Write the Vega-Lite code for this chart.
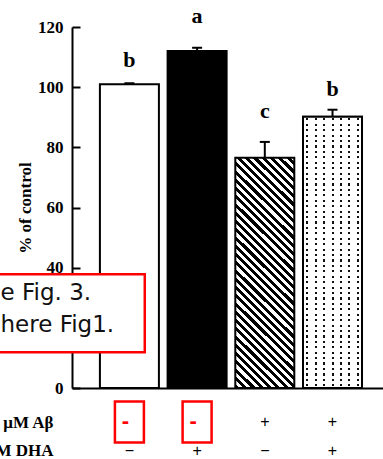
{
  "$schema": "https://vega.github.io/schema/vega-lite/v6.json",
  "width": 311,
  "height": 361,
  "autosize": {"type": "none"},
  "padding": {"left": 72, "right": 0, "top": 27, "bottom": 71},
  "background": "white",
  "config": {"view": {"stroke": null}, "axis": {"grid": false}},
  "datasets": {
    "bars": [
      {"group": "Control", "pos": 1, "value": 101, "upper": 101.3, "letter": "b", "letter_y": 106.7},
      {"group": "DHA", "pos": 2, "value": 112, "upper": 113.1, "letter": "a", "letter_y": 121.2},
      {"group": "Aβ", "pos": 3, "value": 76.5, "upper": 81.8, "letter": "c", "letter_y": 89.8},
      {"group": "Aβ + DHA", "pos": 4, "value": 90.2, "upper": 92.5, "letter": "b", "letter_y": 97.1}
    ],
    "table": [
      {"pos": 1, "row": "μM Aβ", "sign": "-", "hl": true},
      {"pos": 2, "row": "μM Aβ", "sign": "-", "hl": true},
      {"pos": 3, "row": "μM Aβ", "sign": "+", "hl": false},
      {"pos": 4, "row": "μM Aβ", "sign": "+", "hl": false},
      {"pos": 1, "row": "μM DHA", "sign": "−", "hl": false},
      {"pos": 2, "row": "μM DHA", "sign": "+", "hl": false},
      {"pos": 3, "row": "μM DHA", "sign": "−", "hl": false},
      {"pos": 4, "row": "μM DHA", "sign": "+", "hl": false}
    ],
    "note": [
      {"x0": -1.2, "x1": 1.227, "y0": 11.9, "y1": 37.8, "tx": -0.904, "ty": 29.25, "text": ["e Fig. 3.", "here Fig1."]}
    ]
  },
  "resolve": {"scale": {"y": "independent"}, "axis": {"y": "independent"}},
  "layer": [
    {
      "layer": [
        {
          "data": {"name": "bars"},
          "mark": {"type": "bar", "orient": "vertical", "width": 59, "stroke": "black", "strokeWidth": 2},
          "encoding": {
            "x": {"field": "pos", "type": "quantitative", "scale": {"domain": [0.2259, 4.672], "nice": false, "zero": false},
                  "axis": {"title": null, "labels": false, "ticks": false, "domain": true, "domainColor": "black", "domainWidth": 2, "grid": false}},
            "y": {"field": "value", "type": "quantitative", "stack": null, "scale": {"domain": [0, 120], "nice": false},
                  "axis": {"title": "% of control", "values": [0, 40, 60, 80, 100, 120], "domainColor": "black", "domainWidth": 2,
                           "tickColor": "black", "tickWidth": 2, "tickSize": -8, "labelPadding": 17,
                           "labelFont": "Liberation Serif", "labelFontWeight": "bold", "labelFontSize": 17, "labelColor": "black",
                           "titleFont": "Liberation Serif", "titleFontWeight": "bold", "titleFontSize": 17, "titleColor": "black", "titlePadding": 3}},
            "fill": {
              "condition": [
                {"test": "datum.pos === 2", "value": "black"},
                {"test": "datum.pos === 3", "value": {"gradient": "linear", "x1": 0, "y1": 1, "x2": 0.3002, "y2": -0.1783, "stops": [
                  {"offset": 0, "color": "#000"}, {"offset": 0.0143, "color": "#000"}, {"offset": 0.0143, "color": "#fff"}, {"offset": 0.0286, "color": "#fff"},
                  {"offset": 0.0286, "color": "#000"}, {"offset": 0.0429, "color": "#000"}, {"offset": 0.0429, "color": "#fff"}, {"offset": 0.0571, "color": "#fff"},
                  {"offset": 0.0571, "color": "#000"}, {"offset": 0.0714, "color": "#000"}, {"offset": 0.0714, "color": "#fff"}, {"offset": 0.0857, "color": "#fff"},
                  {"offset": 0.0857, "color": "#000"}, {"offset": 0.1, "color": "#000"}, {"offset": 0.1, "color": "#fff"}, {"offset": 0.1143, "color": "#fff"},
                  {"offset": 0.1143, "color": "#000"}, {"offset": 0.1286, "color": "#000"}, {"offset": 0.1286, "color": "#fff"}, {"offset": 0.1429, "color": "#fff"},
                  {"offset": 0.1429, "color": "#000"}, {"offset": 0.1571, "color": "#000"}, {"offset": 0.1571, "color": "#fff"}, {"offset": 0.1714, "color": "#fff"},
                  {"offset": 0.1714, "color": "#000"}, {"offset": 0.1857, "color": "#000"}, {"offset": 0.1857, "color": "#fff"}, {"offset": 0.2, "color": "#fff"},
                  {"offset": 0.2, "color": "#000"}, {"offset": 0.2143, "color": "#000"}, {"offset": 0.2143, "color": "#fff"}, {"offset": 0.2286, "color": "#fff"},
                  {"offset": 0.2286, "color": "#000"}, {"offset": 0.2429, "color": "#000"}, {"offset": 0.2429, "color": "#fff"}, {"offset": 0.2571, "color": "#fff"},
                  {"offset": 0.2571, "color": "#000"}, {"offset": 0.2714, "color": "#000"}, {"offset": 0.2714, "color": "#fff"}, {"offset": 0.2857, "color": "#fff"},
                  {"offset": 0.2857, "color": "#000"}, {"offset": 0.3, "color": "#000"}, {"offset": 0.3, "color": "#fff"}, {"offset": 0.3143, "color": "#fff"},
                  {"offset": 0.3143, "color": "#000"}, {"offset": 0.3286, "color": "#000"}, {"offset": 0.3286, "color": "#fff"}, {"offset": 0.3429, "color": "#fff"},
                  {"offset": 0.3429, "color": "#000"}, {"offset": 0.3571, "color": "#000"}, {"offset": 0.3571, "color": "#fff"}, {"offset": 0.3714, "color": "#fff"},
                  {"offset": 0.3714, "color": "#000"}, {"offset": 0.3857, "color": "#000"}, {"offset": 0.3857, "color": "#fff"}, {"offset": 0.4, "color": "#fff"},
                  {"offset": 0.4, "color": "#000"}, {"offset": 0.4143, "color": "#000"}, {"offset": 0.4143, "color": "#fff"}, {"offset": 0.4286, "color": "#fff"},
                  {"offset": 0.4286, "color": "#000"}, {"offset": 0.4429, "color": "#000"}, {"offset": 0.4429, "color": "#fff"}, {"offset": 0.4571, "color": "#fff"},
                  {"offset": 0.4571, "color": "#000"}, {"offset": 0.4714, "color": "#000"}, {"offset": 0.4714, "color": "#fff"}, {"offset": 0.4857, "color": "#fff"},
                  {"offset": 0.4857, "color": "#000"}, {"offset": 0.5, "color": "#000"}, {"offset": 0.5, "color": "#fff"}, {"offset": 0.5143, "color": "#fff"},
                  {"offset": 0.5143, "color": "#000"}, {"offset": 0.5286, "color": "#000"}, {"offset": 0.5286, "color": "#fff"}, {"offset": 0.5429, "color": "#fff"},
                  {"offset": 0.5429, "color": "#000"}, {"offset": 0.5571, "color": "#000"}, {"offset": 0.5571, "color": "#fff"}, {"offset": 0.5714, "color": "#fff"},
                  {"offset": 0.5714, "color": "#000"}, {"offset": 0.5857, "color": "#000"}, {"offset": 0.5857, "color": "#fff"}, {"offset": 0.6, "color": "#fff"},
                  {"offset": 0.6, "color": "#000"}, {"offset": 0.6143, "color": "#000"}, {"offset": 0.6143, "color": "#fff"}, {"offset": 0.6286, "color": "#fff"},
                  {"offset": 0.6286, "color": "#000"}, {"offset": 0.6429, "color": "#000"}, {"offset": 0.6429, "color": "#fff"}, {"offset": 0.6571, "color": "#fff"},
                  {"offset": 0.6571, "color": "#000"}, {"offset": 0.6714, "color": "#000"}, {"offset": 0.6714, "color": "#fff"}, {"offset": 0.6857, "color": "#fff"},
                  {"offset": 0.6857, "color": "#000"}, {"offset": 0.7, "color": "#000"}, {"offset": 0.7, "color": "#fff"}, {"offset": 0.7143, "color": "#fff"},
                  {"offset": 0.7143, "color": "#000"}, {"offset": 0.7286, "color": "#000"}, {"offset": 0.7286, "color": "#fff"}, {"offset": 0.7429, "color": "#fff"},
                  {"offset": 0.7429, "color": "#000"}, {"offset": 0.7571, "color": "#000"}, {"offset": 0.7571, "color": "#fff"}, {"offset": 0.7714, "color": "#fff"},
                  {"offset": 0.7714, "color": "#000"}, {"offset": 0.7857, "color": "#000"}, {"offset": 0.7857, "color": "#fff"}, {"offset": 0.8, "color": "#fff"},
                  {"offset": 0.8, "color": "#000"}, {"offset": 0.8143, "color": "#000"}, {"offset": 0.8143, "color": "#fff"}, {"offset": 0.8286, "color": "#fff"},
                  {"offset": 0.8286, "color": "#000"}, {"offset": 0.8429, "color": "#000"}, {"offset": 0.8429, "color": "#fff"}, {"offset": 0.8571, "color": "#fff"},
                  {"offset": 0.8571, "color": "#000"}, {"offset": 0.8714, "color": "#000"}, {"offset": 0.8714, "color": "#fff"}, {"offset": 0.8857, "color": "#fff"},
                  {"offset": 0.8857, "color": "#000"}, {"offset": 0.9, "color": "#000"}, {"offset": 0.9, "color": "#fff"}, {"offset": 0.9143, "color": "#fff"},
                  {"offset": 0.9143, "color": "#000"}, {"offset": 0.9286, "color": "#000"}, {"offset": 0.9286, "color": "#fff"}, {"offset": 0.9429, "color": "#fff"},
                  {"offset": 0.9429, "color": "#000"}, {"offset": 0.9571, "color": "#000"}, {"offset": 0.9571, "color": "#fff"}, {"offset": 0.9714, "color": "#fff"},
                  {"offset": 0.9714, "color": "#000"}, {"offset": 0.9857, "color": "#000"}, {"offset": 0.9857, "color": "#fff"}, {"offset": 1, "color": "#fff"}
                ]}},
                {"test": "datum.pos === 4", "value": {"gradient": "linear", "x1": 0, "y1": 0, "x2": 1, "y2": 0, "stops": [
                  {"offset": 0, "color": "#fff"}, {"offset": 0.0544, "color": "#fff"}, {"offset": 0.0544, "color": "#111"}, {"offset": 0.0884, "color": "#111"},
                  {"offset": 0.0884, "color": "#fff"}, {"offset": 0.1973, "color": "#fff"}, {"offset": 0.1973, "color": "#111"}, {"offset": 0.2313, "color": "#111"},
                  {"offset": 0.2313, "color": "#fff"}, {"offset": 0.3401, "color": "#fff"}, {"offset": 0.3401, "color": "#111"}, {"offset": 0.3741, "color": "#111"},
                  {"offset": 0.3741, "color": "#fff"}, {"offset": 0.483, "color": "#fff"}, {"offset": 0.483, "color": "#111"}, {"offset": 0.517, "color": "#111"},
                  {"offset": 0.517, "color": "#fff"}, {"offset": 0.6259, "color": "#fff"}, {"offset": 0.6259, "color": "#111"}, {"offset": 0.6599, "color": "#111"},
                  {"offset": 0.6599, "color": "#fff"}, {"offset": 0.7687, "color": "#fff"}, {"offset": 0.7687, "color": "#111"}, {"offset": 0.8027, "color": "#111"},
                  {"offset": 0.8027, "color": "#fff"}, {"offset": 0.9116, "color": "#fff"}, {"offset": 0.9116, "color": "#111"}, {"offset": 0.9456, "color": "#111"},
                  {"offset": 0.9456, "color": "#fff"}, {"offset": 1, "color": "#fff"}
                ]}}
              ],
              "value": "white"
            }
          }
        },
        {
          "data": {"name": "bars"},
          "transform": [{"filter": "datum.pos === 4"}],
          "mark": {"type": "bar", "orient": "vertical", "width": 59, "stroke": "black", "strokeWidth": 2,
            "fill": {"gradient": "linear", "x1": 0, "y1": 0, "x2": 0, "y2": 1, "stops": [
              {"offset": 0, "color": "rgba(255,255,255,1)"},
              {"offset": 0.006, "color": "rgba(255,255,255,1)"}, {"offset": 0.006, "color": "rgba(255,255,255,0)"}, {"offset": 0.014, "color": "rgba(255,255,255,0)"}, {"offset": 0.014, "color": "rgba(255,255,255,1)"},
              {"offset": 0.026, "color": "rgba(255,255,255,1)"}, {"offset": 0.026, "color": "rgba(255,255,255,0)"}, {"offset": 0.034, "color": "rgba(255,255,255,0)"}, {"offset": 0.034, "color": "rgba(255,255,255,1)"},
              {"offset": 0.046, "color": "rgba(255,255,255,1)"}, {"offset": 0.046, "color": "rgba(255,255,255,0)"}, {"offset": 0.054, "color": "rgba(255,255,255,0)"}, {"offset": 0.054, "color": "rgba(255,255,255,1)"},
              {"offset": 0.066, "color": "rgba(255,255,255,1)"}, {"offset": 0.066, "color": "rgba(255,255,255,0)"}, {"offset": 0.074, "color": "rgba(255,255,255,0)"}, {"offset": 0.074, "color": "rgba(255,255,255,1)"},
              {"offset": 0.086, "color": "rgba(255,255,255,1)"}, {"offset": 0.086, "color": "rgba(255,255,255,0)"}, {"offset": 0.094, "color": "rgba(255,255,255,0)"}, {"offset": 0.094, "color": "rgba(255,255,255,1)"},
              {"offset": 0.106, "color": "rgba(255,255,255,1)"}, {"offset": 0.106, "color": "rgba(255,255,255,0)"}, {"offset": 0.114, "color": "rgba(255,255,255,0)"}, {"offset": 0.114, "color": "rgba(255,255,255,1)"},
              {"offset": 0.126, "color": "rgba(255,255,255,1)"}, {"offset": 0.126, "color": "rgba(255,255,255,0)"}, {"offset": 0.134, "color": "rgba(255,255,255,0)"}, {"offset": 0.134, "color": "rgba(255,255,255,1)"},
              {"offset": 0.146, "color": "rgba(255,255,255,1)"}, {"offset": 0.146, "color": "rgba(255,255,255,0)"}, {"offset": 0.154, "color": "rgba(255,255,255,0)"}, {"offset": 0.154, "color": "rgba(255,255,255,1)"},
              {"offset": 0.166, "color": "rgba(255,255,255,1)"}, {"offset": 0.166, "color": "rgba(255,255,255,0)"}, {"offset": 0.174, "color": "rgba(255,255,255,0)"}, {"offset": 0.174, "color": "rgba(255,255,255,1)"},
              {"offset": 0.186, "color": "rgba(255,255,255,1)"}, {"offset": 0.186, "color": "rgba(255,255,255,0)"}, {"offset": 0.194, "color": "rgba(255,255,255,0)"}, {"offset": 0.194, "color": "rgba(255,255,255,1)"},
              {"offset": 0.206, "color": "rgba(255,255,255,1)"}, {"offset": 0.206, "color": "rgba(255,255,255,0)"}, {"offset": 0.214, "color": "rgba(255,255,255,0)"}, {"offset": 0.214, "color": "rgba(255,255,255,1)"},
              {"offset": 0.226, "color": "rgba(255,255,255,1)"}, {"offset": 0.226, "color": "rgba(255,255,255,0)"}, {"offset": 0.234, "color": "rgba(255,255,255,0)"}, {"offset": 0.234, "color": "rgba(255,255,255,1)"},
              {"offset": 0.246, "color": "rgba(255,255,255,1)"}, {"offset": 0.246, "color": "rgba(255,255,255,0)"}, {"offset": 0.254, "color": "rgba(255,255,255,0)"}, {"offset": 0.254, "color": "rgba(255,255,255,1)"},
              {"offset": 0.266, "color": "rgba(255,255,255,1)"}, {"offset": 0.266, "color": "rgba(255,255,255,0)"}, {"offset": 0.274, "color": "rgba(255,255,255,0)"}, {"offset": 0.274, "color": "rgba(255,255,255,1)"},
              {"offset": 0.286, "color": "rgba(255,255,255,1)"}, {"offset": 0.286, "color": "rgba(255,255,255,0)"}, {"offset": 0.294, "color": "rgba(255,255,255,0)"}, {"offset": 0.294, "color": "rgba(255,255,255,1)"},
              {"offset": 0.306, "color": "rgba(255,255,255,1)"}, {"offset": 0.306, "color": "rgba(255,255,255,0)"}, {"offset": 0.314, "color": "rgba(255,255,255,0)"}, {"offset": 0.314, "color": "rgba(255,255,255,1)"},
              {"offset": 0.326, "color": "rgba(255,255,255,1)"}, {"offset": 0.326, "color": "rgba(255,255,255,0)"}, {"offset": 0.334, "color": "rgba(255,255,255,0)"}, {"offset": 0.334, "color": "rgba(255,255,255,1)"},
              {"offset": 0.346, "color": "rgba(255,255,255,1)"}, {"offset": 0.346, "color": "rgba(255,255,255,0)"}, {"offset": 0.354, "color": "rgba(255,255,255,0)"}, {"offset": 0.354, "color": "rgba(255,255,255,1)"},
              {"offset": 0.366, "color": "rgba(255,255,255,1)"}, {"offset": 0.366, "color": "rgba(255,255,255,0)"}, {"offset": 0.374, "color": "rgba(255,255,255,0)"}, {"offset": 0.374, "color": "rgba(255,255,255,1)"},
              {"offset": 0.386, "color": "rgba(255,255,255,1)"}, {"offset": 0.386, "color": "rgba(255,255,255,0)"}, {"offset": 0.394, "color": "rgba(255,255,255,0)"}, {"offset": 0.394, "color": "rgba(255,255,255,1)"},
              {"offset": 0.406, "color": "rgba(255,255,255,1)"}, {"offset": 0.406, "color": "rgba(255,255,255,0)"}, {"offset": 0.414, "color": "rgba(255,255,255,0)"}, {"offset": 0.414, "color": "rgba(255,255,255,1)"},
              {"offset": 0.426, "color": "rgba(255,255,255,1)"}, {"offset": 0.426, "color": "rgba(255,255,255,0)"}, {"offset": 0.434, "color": "rgba(255,255,255,0)"}, {"offset": 0.434, "color": "rgba(255,255,255,1)"},
              {"offset": 0.446, "color": "rgba(255,255,255,1)"}, {"offset": 0.446, "color": "rgba(255,255,255,0)"}, {"offset": 0.454, "color": "rgba(255,255,255,0)"}, {"offset": 0.454, "color": "rgba(255,255,255,1)"},
              {"offset": 0.466, "color": "rgba(255,255,255,1)"}, {"offset": 0.466, "color": "rgba(255,255,255,0)"}, {"offset": 0.474, "color": "rgba(255,255,255,0)"}, {"offset": 0.474, "color": "rgba(255,255,255,1)"},
              {"offset": 0.486, "color": "rgba(255,255,255,1)"}, {"offset": 0.486, "color": "rgba(255,255,255,0)"}, {"offset": 0.494, "color": "rgba(255,255,255,0)"}, {"offset": 0.494, "color": "rgba(255,255,255,1)"},
              {"offset": 0.506, "color": "rgba(255,255,255,1)"}, {"offset": 0.506, "color": "rgba(255,255,255,0)"}, {"offset": 0.514, "color": "rgba(255,255,255,0)"}, {"offset": 0.514, "color": "rgba(255,255,255,1)"},
              {"offset": 0.526, "color": "rgba(255,255,255,1)"}, {"offset": 0.526, "color": "rgba(255,255,255,0)"}, {"offset": 0.534, "color": "rgba(255,255,255,0)"}, {"offset": 0.534, "color": "rgba(255,255,255,1)"},
              {"offset": 0.546, "color": "rgba(255,255,255,1)"}, {"offset": 0.546, "color": "rgba(255,255,255,0)"}, {"offset": 0.554, "color": "rgba(255,255,255,0)"}, {"offset": 0.554, "color": "rgba(255,255,255,1)"},
              {"offset": 0.566, "color": "rgba(255,255,255,1)"}, {"offset": 0.566, "color": "rgba(255,255,255,0)"}, {"offset": 0.574, "color": "rgba(255,255,255,0)"}, {"offset": 0.574, "color": "rgba(255,255,255,1)"},
              {"offset": 0.586, "color": "rgba(255,255,255,1)"}, {"offset": 0.586, "color": "rgba(255,255,255,0)"}, {"offset": 0.594, "color": "rgba(255,255,255,0)"}, {"offset": 0.594, "color": "rgba(255,255,255,1)"},
              {"offset": 0.606, "color": "rgba(255,255,255,1)"}, {"offset": 0.606, "color": "rgba(255,255,255,0)"}, {"offset": 0.614, "color": "rgba(255,255,255,0)"}, {"offset": 0.614, "color": "rgba(255,255,255,1)"},
              {"offset": 0.626, "color": "rgba(255,255,255,1)"}, {"offset": 0.626, "color": "rgba(255,255,255,0)"}, {"offset": 0.634, "color": "rgba(255,255,255,0)"}, {"offset": 0.634, "color": "rgba(255,255,255,1)"},
              {"offset": 0.646, "color": "rgba(255,255,255,1)"}, {"offset": 0.646, "color": "rgba(255,255,255,0)"}, {"offset": 0.654, "color": "rgba(255,255,255,0)"}, {"offset": 0.654, "color": "rgba(255,255,255,1)"},
              {"offset": 0.666, "color": "rgba(255,255,255,1)"}, {"offset": 0.666, "color": "rgba(255,255,255,0)"}, {"offset": 0.674, "color": "rgba(255,255,255,0)"}, {"offset": 0.674, "color": "rgba(255,255,255,1)"},
              {"offset": 0.686, "color": "rgba(255,255,255,1)"}, {"offset": 0.686, "color": "rgba(255,255,255,0)"}, {"offset": 0.694, "color": "rgba(255,255,255,0)"}, {"offset": 0.694, "color": "rgba(255,255,255,1)"},
              {"offset": 0.706, "color": "rgba(255,255,255,1)"}, {"offset": 0.706, "color": "rgba(255,255,255,0)"}, {"offset": 0.714, "color": "rgba(255,255,255,0)"}, {"offset": 0.714, "color": "rgba(255,255,255,1)"},
              {"offset": 0.726, "color": "rgba(255,255,255,1)"}, {"offset": 0.726, "color": "rgba(255,255,255,0)"}, {"offset": 0.734, "color": "rgba(255,255,255,0)"}, {"offset": 0.734, "color": "rgba(255,255,255,1)"},
              {"offset": 0.746, "color": "rgba(255,255,255,1)"}, {"offset": 0.746, "color": "rgba(255,255,255,0)"}, {"offset": 0.754, "color": "rgba(255,255,255,0)"}, {"offset": 0.754, "color": "rgba(255,255,255,1)"},
              {"offset": 0.766, "color": "rgba(255,255,255,1)"}, {"offset": 0.766, "color": "rgba(255,255,255,0)"}, {"offset": 0.774, "color": "rgba(255,255,255,0)"}, {"offset": 0.774, "color": "rgba(255,255,255,1)"},
              {"offset": 0.786, "color": "rgba(255,255,255,1)"}, {"offset": 0.786, "color": "rgba(255,255,255,0)"}, {"offset": 0.794, "color": "rgba(255,255,255,0)"}, {"offset": 0.794, "color": "rgba(255,255,255,1)"},
              {"offset": 0.806, "color": "rgba(255,255,255,1)"}, {"offset": 0.806, "color": "rgba(255,255,255,0)"}, {"offset": 0.814, "color": "rgba(255,255,255,0)"}, {"offset": 0.814, "color": "rgba(255,255,255,1)"},
              {"offset": 0.826, "color": "rgba(255,255,255,1)"}, {"offset": 0.826, "color": "rgba(255,255,255,0)"}, {"offset": 0.834, "color": "rgba(255,255,255,0)"}, {"offset": 0.834, "color": "rgba(255,255,255,1)"},
              {"offset": 0.846, "color": "rgba(255,255,255,1)"}, {"offset": 0.846, "color": "rgba(255,255,255,0)"}, {"offset": 0.854, "color": "rgba(255,255,255,0)"}, {"offset": 0.854, "color": "rgba(255,255,255,1)"},
              {"offset": 0.866, "color": "rgba(255,255,255,1)"}, {"offset": 0.866, "color": "rgba(255,255,255,0)"}, {"offset": 0.874, "color": "rgba(255,255,255,0)"}, {"offset": 0.874, "color": "rgba(255,255,255,1)"},
              {"offset": 0.886, "color": "rgba(255,255,255,1)"}, {"offset": 0.886, "color": "rgba(255,255,255,0)"}, {"offset": 0.894, "color": "rgba(255,255,255,0)"}, {"offset": 0.894, "color": "rgba(255,255,255,1)"},
              {"offset": 0.906, "color": "rgba(255,255,255,1)"}, {"offset": 0.906, "color": "rgba(255,255,255,0)"}, {"offset": 0.914, "color": "rgba(255,255,255,0)"}, {"offset": 0.914, "color": "rgba(255,255,255,1)"},
              {"offset": 0.926, "color": "rgba(255,255,255,1)"}, {"offset": 0.926, "color": "rgba(255,255,255,0)"}, {"offset": 0.934, "color": "rgba(255,255,255,0)"}, {"offset": 0.934, "color": "rgba(255,255,255,1)"},
              {"offset": 0.946, "color": "rgba(255,255,255,1)"}, {"offset": 0.946, "color": "rgba(255,255,255,0)"}, {"offset": 0.954, "color": "rgba(255,255,255,0)"}, {"offset": 0.954, "color": "rgba(255,255,255,1)"},
              {"offset": 0.966, "color": "rgba(255,255,255,1)"}, {"offset": 0.966, "color": "rgba(255,255,255,0)"}, {"offset": 0.974, "color": "rgba(255,255,255,0)"}, {"offset": 0.974, "color": "rgba(255,255,255,1)"},
              {"offset": 0.986, "color": "rgba(255,255,255,1)"}, {"offset": 0.986, "color": "rgba(255,255,255,0)"}, {"offset": 0.994, "color": "rgba(255,255,255,0)"}, {"offset": 0.994, "color": "rgba(255,255,255,1)"},
              {"offset": 1, "color": "rgba(255,255,255,1)"}
            ]}},
          "encoding": {
            "x": {"field": "pos", "type": "quantitative", "scale": {"domain": [0.2259, 4.672], "nice": false, "zero": false}},
            "y": {"field": "value", "type": "quantitative", "stack": null, "scale": {"domain": [0, 120], "nice": false}}
          }
        },
        {
          "data": {"name": "bars"},
          "mark": {"type": "rule", "strokeWidth": 2, "color": "black"},
          "encoding": {
            "x": {"field": "pos", "type": "quantitative", "scale": {"domain": [0.2259, 4.672], "nice": false, "zero": false}},
            "y": {"field": "value", "type": "quantitative", "scale": {"domain": [0, 120], "nice": false}},
            "y2": {"field": "upper"}
          }
        },
        {
          "data": {"name": "bars"},
          "mark": {"type": "tick", "orient": "horizontal", "size": 10, "thickness": 2, "color": "black", "opacity": 1},
          "encoding": {
            "x": {"field": "pos", "type": "quantitative", "scale": {"domain": [0.2259, 4.672], "nice": false, "zero": false}},
            "y": {"field": "upper", "type": "quantitative", "scale": {"domain": [0, 120], "nice": false}}
          }
        },
        {
          "data": {"name": "bars"},
          "mark": {"type": "text", "font": "Liberation Serif", "fontWeight": "bold", "fontSize": 22, "color": "black", "baseline": "alphabetic", "align": "center"},
          "encoding": {
            "x": {"field": "pos", "type": "quantitative", "scale": {"domain": [0.2259, 4.672], "nice": false, "zero": false}},
            "y": {"field": "letter_y", "type": "quantitative", "scale": {"domain": [0, 120], "nice": false}},
            "text": {"field": "letter"}
          }
        },
        {
          "data": {"name": "note"},
          "mark": {"type": "rect", "fill": "white", "stroke": "#ff0000", "strokeWidth": 2.5},
          "encoding": {
            "x": {"field": "x0", "type": "quantitative", "scale": {"domain": [0.2259, 4.672], "nice": false, "zero": false}},
            "x2": {"field": "x1"},
            "y": {"field": "y0", "type": "quantitative", "scale": {"domain": [0, 120], "nice": false}},
            "y2": {"field": "y1"}
          }
        },
        {
          "data": {"name": "note"},
          "mark": {"type": "text", "font": "DejaVu Sans", "fontSize": 23, "color": "#111", "align": "left", "baseline": "alphabetic", "lineHeight": 32},
          "encoding": {
            "x": {"field": "tx", "type": "quantitative", "scale": {"domain": [0.2259, 4.672], "nice": false, "zero": false}},
            "y": {"field": "ty", "type": "quantitative", "scale": {"domain": [0, 120], "nice": false}},
            "text": {"field": "text"}
          }
        }
      ]
    },
    {
      "data": {"name": "table"},
      "layer": [
        {
          "transform": [{"filter": "datum.hl"}],
          "mark": {"type": "point", "shape": "M-0.707,-1H0.707V1H-0.707Z", "size": 1681, "filled": false, "stroke": "#ff0000", "strokeWidth": 2.5, "opacity": 1},
          "encoding": {
            "x": {"field": "pos", "type": "quantitative", "scale": {"domain": [0.2259, 4.672], "nice": false, "zero": false}},
            "y": {"field": "row", "type": "nominal", "scale": {"type": "point", "domain": ["μM Aβ", "μM DHA"], "range": [395, 423.5], "padding": 0},
                  "axis": {"orient": "left", "title": null, "domain": false, "ticks": false, "grid": false, "labelPadding": 19,
                           "labelFont": "Liberation Serif", "labelFontWeight": "bold", "labelFontSize": 17, "labelColor": "black", "labelBaseline": "middle"}}
          }
        },
        {
          "transform": [{"filter": "!datum.hl"}],
          "mark": {"type": "text", "font": "Liberation Sans", "fontSize": 16, "color": "black", "align": "center", "baseline": "middle"},
          "encoding": {
            "x": {"field": "pos", "type": "quantitative", "scale": {"domain": [0.2259, 4.672], "nice": false, "zero": false}},
            "y": {"field": "row", "type": "nominal", "scale": {"type": "point", "domain": ["μM Aβ", "μM DHA"], "range": [395, 423.5], "padding": 0}},
            "text": {"field": "sign"}
          }
        },
        {
          "transform": [{"filter": "datum.hl"}],
          "mark": {"type": "text", "font": "Liberation Sans", "fontSize": 22, "fontWeight": "bold", "color": "#ff0000", "align": "center", "baseline": "middle", "dx": -4, "dy": -1},
          "encoding": {
            "x": {"field": "pos", "type": "quantitative", "scale": {"domain": [0.2259, 4.672], "nice": false, "zero": false}},
            "y": {"field": "row", "type": "nominal", "scale": {"type": "point", "domain": ["μM Aβ", "μM DHA"], "range": [395, 423.5], "padding": 0}},
            "text": {"field": "sign"}
          }
        }
      ]
    }
  ]
}
